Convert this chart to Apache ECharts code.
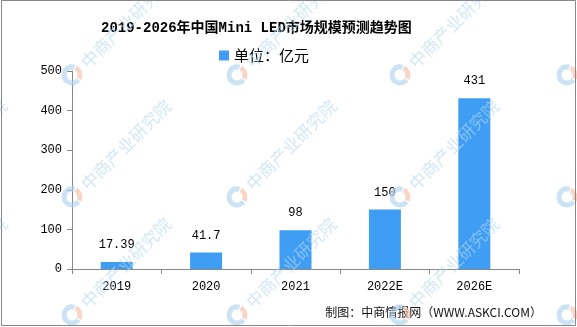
<!DOCTYPE html>
<html>
<head>
<meta charset="utf-8">
<script src="https://cdn.jsdelivr.net/npm/echarts@6/dist/echarts.min.js"></script>
<style>
  html, body { margin: 0; padding: 0; background: #fff; }
  #chart { width: 577px; height: 327px; }
</style>
</head>
<body>
<div id="chart"></div>
<script>
// Mini LED market size (100 million yuan), actual and forecast
const categories = ['2019', '2020', '2021', '2022E', '2026E'];
const marketSize = [17.39, 41.7, 98, 150, 431];
const seriesName = '单位：亿元';
const titleText = '2019-2026年中国Mini LED市场规模预测趋势图';
const sourceText = '制图：中商情报网（WWW.ASKCI.COM）';
const watermarkText = '中商产业研究院';

const monoFont = "'Liberation Mono', 'Noto Sans CJK SC', monospace";
const cjkFont = "'Noto Sans CJK SC', sans-serif";

// repeating diagonal brand watermark
const wmX = [-92, 72, 237, 400, 567];
const wmY = [75, 197, 315];
const watermark = [];
wmY.forEach(function (cy) {
  wmX.forEach(function (cx) {
    watermark.push({
      type: 'arc', z: 100, silent: true,
      shape: { cx: cx, cy: cy, r: 8, startAngle: Math.PI * 0.2, endAngle: Math.PI * 1.6 },
      style: { stroke: 'rgba(175,212,238,0.65)', lineWidth: 5, fill: null }
    });
    watermark.push({
      type: 'arc', z: 100, silent: true,
      shape: { cx: cx, cy: cy, r: 8, startAngle: Math.PI * 1.65, endAngle: Math.PI * 2.15 },
      style: { stroke: 'rgba(245,195,175,0.7)', lineWidth: 5, fill: null }
    });
    watermark.push({
      type: 'text', z: 100, silent: true,
      x: cx + 12, y: cy - 10, rotation: Math.PI / 4,
      style: {
        text: watermarkText, fill: 'rgba(180,215,240,0.6)',
        font: '17px ' + cjkFont, textVerticalAlign: 'middle'
      }
    });
  });
});

const chart = echarts.init(document.getElementById('chart'), null, { renderer: 'canvas' });
chart.setOption({
  animation: false,
  backgroundColor: '#ffffff',
  title: {
    text: titleText,
    left: 96, top: 16,
    textStyle: { fontFamily: monoFont, fontSize: 14, fontWeight: 'bold', color: '#000' }
  },
  legend: {
    data: [seriesName],
    left: 214, top: 43,
    itemWidth: 10, itemHeight: 10, itemGap: 5,
    icon: 'rect',
    textStyle: { fontFamily: cjkFont, fontSize: 15, color: '#000' }
  },
  grid: { left: 72, right: 58, top: 71, bottom: 58, containLabel: false },
  xAxis: {
    type: 'category',
    data: categories,
    axisLine: { lineStyle: { color: '#888', width: 1 } },
    axisTick: { show: true, alignWithLabel: false, length: 5, lineStyle: { color: '#888' } },
    axisLabel: { margin: 12, fontFamily: monoFont, fontSize: 12, color: '#000' }
  },
  yAxis: {
    type: 'value',
    min: 0, max: 500, interval: 100,
    splitLine: { show: false },
    axisLine: { show: true, lineStyle: { color: '#888', width: 1 } },
    axisTick: { show: true, length: 5, lineStyle: { color: '#888' } },
    axisLabel: { margin: 10, fontFamily: monoFont, fontSize: 12, color: '#000' }
  },
  series: [{
    name: seriesName,
    type: 'bar',
    data: marketSize,
    barWidth: 32,
    itemStyle: { color: '#3f9ef4' },
    label: {
      show: true, position: 'top', distance: 11,
      fontFamily: monoFont, fontSize: 12, color: '#000'
    }
  }],
  graphic: watermark.concat([
    {
      type: 'text', z: 50,
      right: 35, top: 306,
      style: { text: sourceText, font: '12px ' + cjkFont, fill: '#111' }
    },
    {
      type: 'rect', z: 120, silent: true,
      shape: { x: 1.5, y: 0.5, width: 574, height: 325 },
      style: { fill: null, stroke: '#888', lineWidth: 1 }
    }
  ])
});
</script>
</body>
</html>
